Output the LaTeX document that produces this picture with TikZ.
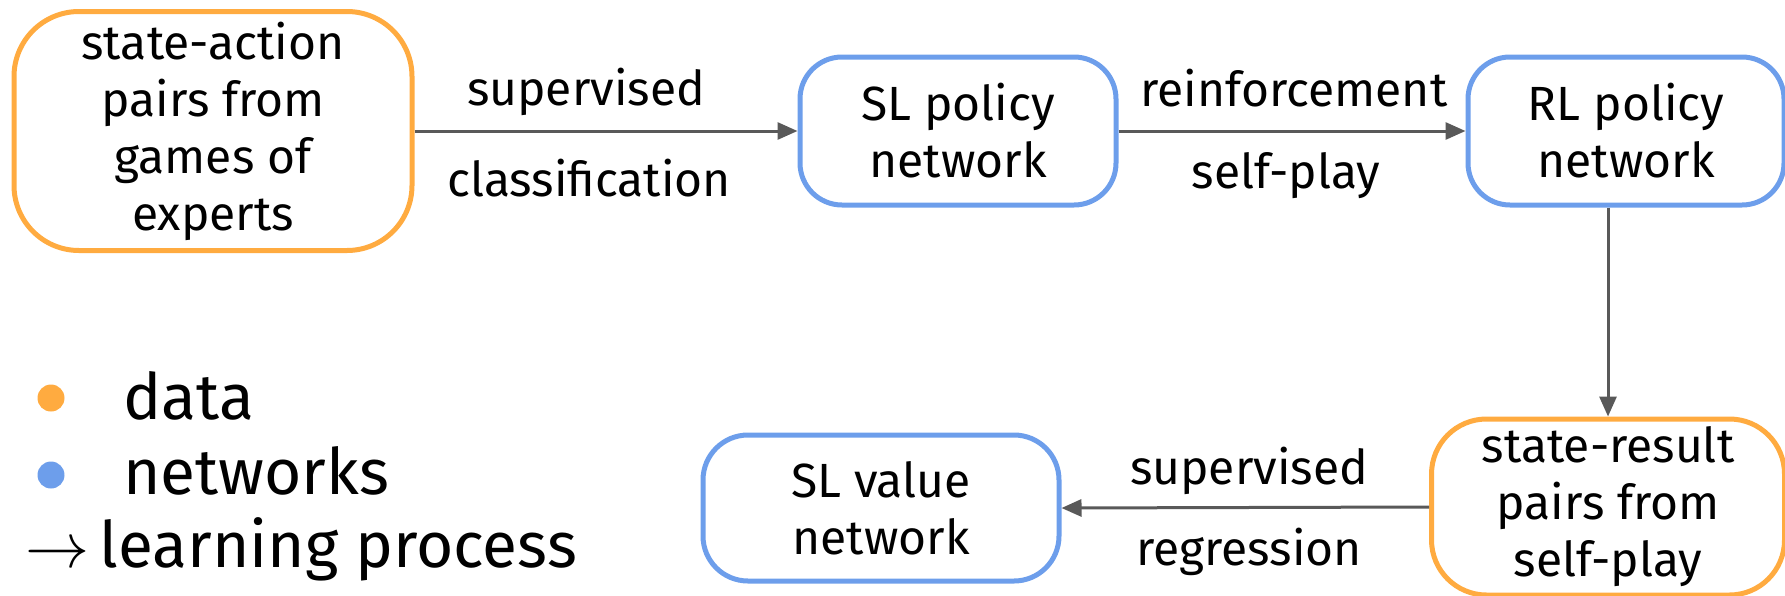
\RequirePackage{fix-cm}
\documentclass[tikz,border=0pt]{standalone}
\usepackage{fontspec}
\setmainfont{Fira Sans}
\usetikzlibrary{arrows.meta}
\definecolor{dataor}{HTML}{FFAB40}
\definecolor{netbl}{HTML}{6D9EEB}
\definecolor{arrgray}{HTML}{595959}
\tikzset{
  box/.style={draw, line width=5pt, align=center, inner sep=0pt,
    font=\fontsize{48}{57}\selectfont},
  databox/.style={box, draw=dataor},
  netbox/.style={box, draw=netbl},
  flow/.style={draw=arrgray, line width=3pt, -{Triangle[length=20pt,width=17pt]}},
  lbl/.style={anchor=base, font=\fontsize{48}{57}\selectfont, inner sep=0pt},
  legtext/.style={anchor=base west, font=\fontsize{64}{75}\selectfont, inner sep=0pt},
  dot/.style={circle, inner sep=0pt, minimum size=27pt}
}
\begin{document}
\begin{tikzpicture}[x=1pt,y=-1pt]
\useasboundingbox (0,0) rectangle (1785,595);
\node[databox, minimum width=398pt, minimum height=239pt, rounded corners=65pt] (sa) at (213,131) {state-action\\pairs from\\games of\\experts};
\node[netbox, minimum width=316pt, minimum height=148pt, rounded corners=42pt] (slp) at (958,131) {SL policy\\network};
\node[netbox, minimum width=316pt, minimum height=148pt, rounded corners=42pt] (rlp) at (1626,131) {RL policy\\network};
\node[databox, minimum width=353pt, minimum height=176pt, rounded corners=55pt] (sr) at (1608,507) {state-result\\pairs from\\self-play};
\node[netbox, minimum width=356pt, minimum height=146pt, rounded corners=45pt] (slv) at (881,508) {SL value\\network};

\draw[flow] (sa.east) -- (slp.west);
\draw[flow] (slp.east) -- (rlp.west);
\draw[flow] (sr.north |- rlp.south) -- (sr.north);
\draw[flow] (sr.west) -- (slv.east);

\node[lbl] (l1) at (586,105) {supervised};
\node[lbl] (l2) at (589,196) {classification};
\node[lbl] (l3) at (1294,106) {reinforcement};
\node[lbl] (l4) at (1286,188) {self-play};
\node[lbl] (l5) at (1249,484) {supervised};
\node[lbl] (l6) at (1249,565) {regression};

\node[dot, fill=dataor] (d1) at (51,398) {};
\node[dot, fill=netbl] (d2) at (51,475) {};
\node[legtext] (t1) at (123,419) {data};
\node[legtext] (t2) at (123,494) {networks};
\node[legtext] (t3) at (25,567) {$\rightarrow$\,learning process};
\end{tikzpicture}
\end{document}
